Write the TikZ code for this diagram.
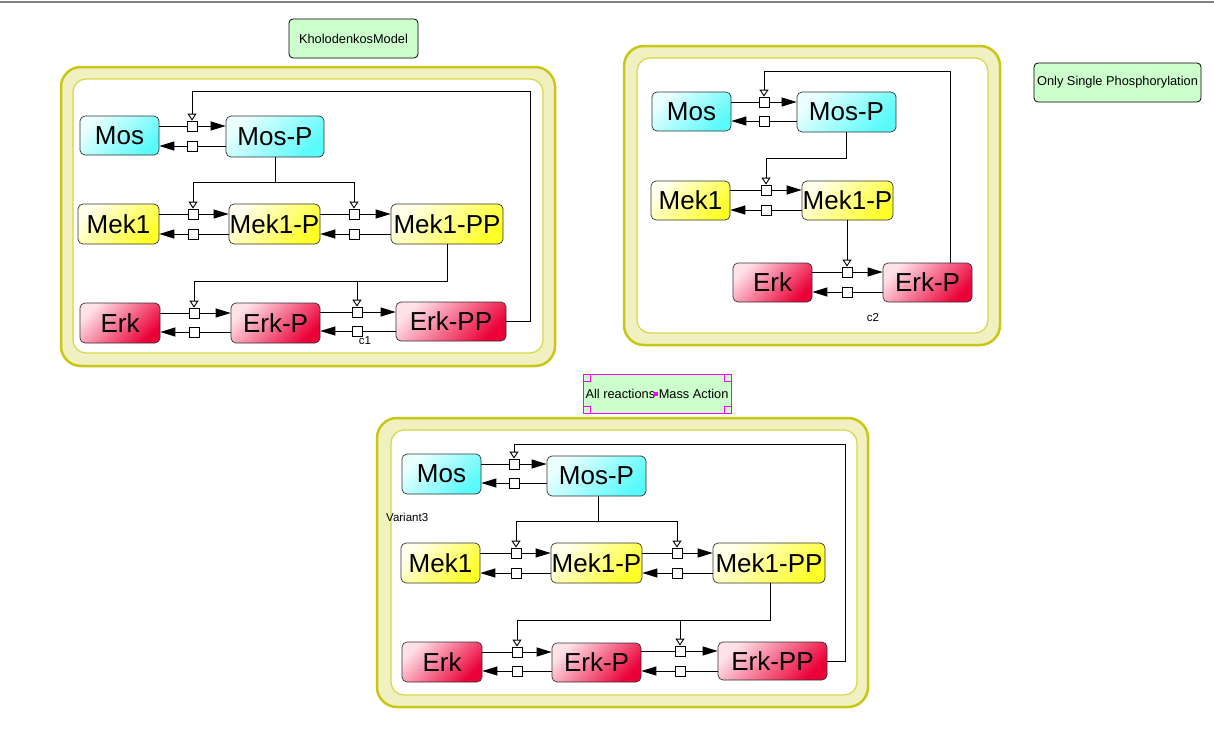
\documentclass[tikz,border=0pt]{standalone}
\usepackage{fontspec}
\setmainfont{Liberation Sans}
\usetikzlibrary{arrows.meta}
\definecolor{cyC}{RGB}{90,250,250}
\definecolor{cyL}{RGB}{235,255,255}
\definecolor{yeC}{RGB}{255,255,40}
\definecolor{yeL}{RGB}{255,255,235}
\definecolor{reC}{RGB}{235,0,55}
\definecolor{reL}{RGB}{255,225,232}
\definecolor{noteG}{RGB}{204,255,204}
\definecolor{compOut}{RGB}{200,200,20}
\definecolor{compFill}{RGB}{240,240,192}
\definecolor{compIn}{RGB}{215,215,70}
\definecolor{magC}{RGB}{255,0,255}
\tikzset{
  specbox/.style={draw=black!80, line width=0.7pt, rounded corners=5pt, inner sep=0pt,
    font=\fontsize{26}{30}\selectfont},
  cy/.style={top color=cyL, bottom color=cyC, shading angle=45},
  ye/.style={top color=yeL, bottom color=yeC, shading angle=45},
  re/.style={top color=reL, bottom color=reC, shading angle=45},
  rxn/.style={draw=black, fill=white, line width=0.8pt, minimum size=10pt, inner sep=0pt},
  fwd/.style={line width=0.9pt, -{Triangle[length=15pt,width=9pt]}},
  plain/.style={line width=0.9pt},
  mod/.style={line width=0.9pt, -{Triangle[open,length=7pt,width=9pt,fill=white]}},
  note/.style={draw=black, fill=noteG, rounded corners=4pt, line width=0.8pt, inner sep=0pt,
    font=\fontsize{12.8}{15}\selectfont},
  outerc/.style={draw=compOut, fill=compFill, line width=2.5pt, rounded corners=20pt},
  innerc/.style={draw=compIn, fill=white, line width=1.2pt, rounded corners=13pt},
  lab/.style={font=\fontsize{11.5}{13}\selectfont, inner sep=0pt}
}
\newcommand\spec[7]{\node[specbox,#2,minimum width={(#5-#3)*1pt},minimum height={(#6-#4)*1pt}] (#1) at ({(#3+#5)/2},{(#4+#6)/2}) {#7};}
\newcommand\rsq[3]{\node[rxn] (#1) at (#2,#3) {};}
\newcommand\reac[4]{%
  \draw[plain] (#1.east|-#3) -- (#3.west);
  \draw[fwd] (#3.east) -- (#2.west|-#3);
  \draw[plain] (#2.west|-#4) -- (#4.east);
  \draw[fwd] (#4.west) -- (#1.east|-#4);}
\begin{document}
\begin{tikzpicture}[x=1pt,y=-1pt]
\useasboundingbox (0,0) rectangle (1214,744);
\fill[white] (0,0) rectangle (1214,744);
\draw[black!50, line width=1.2pt] (0,2) -- (1214,2);

% compartments
\draw[outerc] (61,67) rectangle (555,366);
\draw[innerc] (73,79) rectangle (543,353);
\draw[outerc] (624,46) rectangle (1000,345);
\draw[innerc] (637,58) rectangle (988,333);
\draw[outerc] (377,418) rectangle (868,707);
\draw[innerc] (391,430) rectangle (857,695);

% notes
\node[note, minimum width=129pt, minimum height=39pt] (n1) at (353.5,38.5) {KholodenkosModel};
\node[note, minimum width=167pt, minimum height=39pt] (n2) at (1117.5,82.5) {Only Single Phosphorylation};
\node[note, draw=magC, rounded corners=0pt, minimum width=148pt, minimum height=39pt] (n3) at (657,393.5) {All reactions Mass Action};
\foreach \cx/\cy in {586.5/377.5, 727.5/377.5, 586.5/409.5, 727.5/409.5}
  \draw[magC, fill=noteG, line width=0.8pt] (\cx-3.5,\cy-3.5) rectangle (\cx+3.5,\cy+3.5);
\fill[magC] (654,392) rectangle (658,396);

% ---------- compartment 1
\spec{mosA}{cy}{80}{116}{159}{155}{Mos}
\spec{mospA}{cy}{226}{116}{324}{157}{Mos-P}
\spec{mekA}{ye}{78}{204}{159}{244}{Mek1}
\spec{mekpA}{ye}{229}{204}{320}{244}{Mek1-P}
\spec{mekppA}{ye}{391}{204}{503}{244}{Mek1-PP}
\spec{erkA}{re}{80}{303}{160}{343}{Erk}
\spec{erkpA}{re}{231}{303}{320}{343}{Erk-P}
\spec{erkppA}{re}{396}{302}{506}{341}{Erk-PP}
\rsq{a1f}{192}{126}\rsq{a1b}{192}{146}
\rsq{a2f}{193}{214}\rsq{a2b}{193}{234}
\rsq{a3f}{354}{214}\rsq{a3b}{354}{234}
\rsq{a4f}{194}{313}\rsq{a4b}{194}{332}
\rsq{a5f}{357}{312}\rsq{a5b}{357}{331}
\reac{mosA}{mospA}{a1f}{a1b}
\reac{mekA}{mekpA}{a2f}{a2b}
\reac{mekpA}{mekppA}{a3f}{a3b}
\reac{erkA}{erkpA}{a4f}{a4b}
\reac{erkpA}{erkppA}{a5f}{a5b}
\draw[mod] (erkppA.east) -| (530,91) -| (a1f.north);
\draw[mod] (mospA.south) -- ++(0,25) -| (a2f.north);
\draw[mod] (mospA.south) -- ++(0,25) -| (a3f.north);
\draw[mod] (mekppA.south) -- ++(0,37) -| (a4f.north);
\draw[mod] (mekppA.south) -- ++(0,37) -| (a5f.north);
\node[lab] (c1) at (365,341) {c1};

% ---------- compartment 2
\spec{mosB}{cy}{652}{92}{731}{131}{Mos}
\spec{mospB}{cy}{797}{92}{896}{132}{Mos-P}
\spec{mekB}{ye}{651}{181}{730}{220}{Mek1}
\spec{mekpB}{ye}{802}{181}{893}{220}{Mek1-P}
\spec{erkB}{re}{733}{263}{812}{302}{Erk}
\spec{erkpB}{re}{883}{263}{972}{302}{Erk-P}
\rsq{b1f}{764}{102}\rsq{b1b}{764}{121}
\rsq{b2f}{766}{190}\rsq{b2b}{766}{210}
\rsq{b3f}{847}{272}\rsq{b3b}{847}{292}
\reac{mosB}{mospB}{b1f}{b1b}
\reac{mekB}{mekpB}{b2f}{b2b}
\reac{erkB}{erkpB}{b3f}{b3b}
\draw[mod] ([xshift=22.5pt]erkpB.north) -- ++(0,-191) -| (b1f.north);
\draw[mod] (mospB.south) -- ++(0,26) -| (b2f.north);
\draw[mod] (b3f.north |- mekpB.south) -- (b3f.north);
\node[lab] (c2) at (873,318) {c2};

% ---------- compartment 3
\spec{mosC}{cy}{402}{454}{481}{494}{Mos}
\spec{mospC}{cy}{547}{456}{646}{496}{Mos-P}
\spec{mekC}{ye}{401}{543}{480}{583}{Mek1}
\spec{mekpC}{ye}{551}{543}{642}{583}{Mek1-P}
\spec{mekppC}{ye}{713}{543}{825}{583}{Mek1-PP}
\spec{erkC}{re}{402}{642}{482}{682}{Erk}
\spec{erkpC}{re}{552}{643}{641}{682}{Erk-P}
\spec{erkppC}{re}{718}{642}{827}{680}{Erk-PP}
\rsq{d1f}{514}{464}\rsq{d1b}{514}{483}
\rsq{d2f}{516}{553}\rsq{d2b}{516}{573}
\rsq{d3f}{677}{553}\rsq{d3b}{677}{573}
\rsq{d4f}{517}{652}\rsq{d4b}{517}{671}
\rsq{d5f}{680}{651}\rsq{d5b}{680}{671}
\reac{mosC}{mospC}{d1f}{d1b}
\reac{mekC}{mekpC}{d2f}{d2b}
\reac{mekpC}{mekppC}{d3f}{d3b}
\reac{erkC}{erkpC}{d4f}{d4b}
\reac{erkpC}{erkppC}{d5f}{d5b}
\draw[mod] (erkppC.east) -| (845,444) -| (d1f.north);
\draw[mod] ([xshift=1.5pt]mospC.south) -- ++(0,25) -| (d2f.north);
\draw[mod] ([xshift=1.5pt]mospC.south) -- ++(0,25) -| (d3f.north);
\draw[mod] ([xshift=1pt]mekppC.south) -- ++(0,37) -| (d4f.north);
\draw[mod] ([xshift=1pt]mekppC.south) -- ++(0,37) -| (d5f.north);
\node[lab, anchor=west] (v3) at (386,517) {Variant3};
\end{tikzpicture}
\end{document}
